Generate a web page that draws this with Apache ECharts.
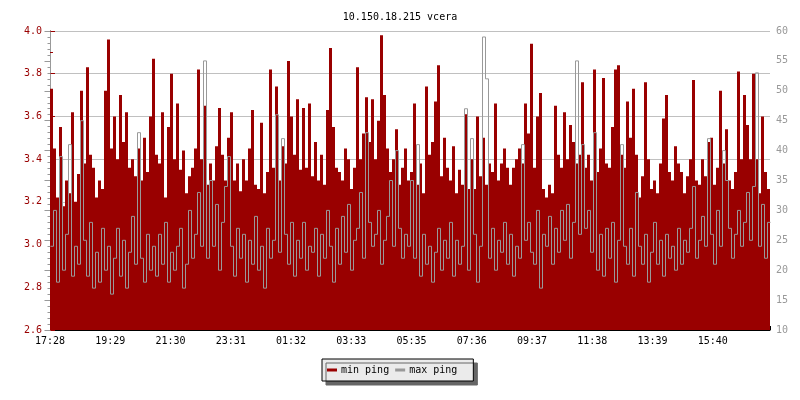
<!DOCTYPE html>
<html><head><meta charset="utf-8">
<script src="https://cdn.jsdelivr.net/npm/echarts@6/dist/echarts.min.js"></script>
<style>html,body{margin:0;padding:0;background:#fff}#c{width:800px;height:400px}</style>
</head><body><div id="c"></div>
<script>
const titleText = '10.150.18.215 vcera';
const seriesNames = ['min ping', 'max ping'];
const tickLabels = ['17:28','19:29','21:30','23:31','01:32','03:33','05:35','07:36','09:37','11:38','13:39','15:40'];
const stepMinutes = 6;
const totalMinutes = 1440;
const tickMinutes = 120.5;

const minPing = [
3.73,3.45,3.22, 3.55,3.18,3.3, 3.24,3.62,3.2, 3.33,3.72,3.38, 3.83,3.42,3.36,
3.22,3.3,3.26, 3.72,3.96,3.45, 3.6,3.4,3.7, 3.48,3.62,3.36, 3.4,3.32,3.45,
3.3,3.5,3.34, 3.6,3.87,3.42, 3.38,3.62,3.22, 3.55,3.8,3.4, 3.66,3.35,3.44,
3.24,3.32,3.36, 3.45,3.82,3.4, 3.65,3.28,3.38, 3.3,3.46,3.64, 3.42,3.3,3.5,
3.62,3.3,3.38, 3.25,3.4,3.3, 3.45,3.63,3.28, 3.26,3.57,3.24, 3.34,3.82,3.36,
3.74,3.3,3.46, 3.38,3.86,3.6, 3.42,3.68,3.35, 3.64,3.36,3.66, 3.32,3.48,3.3,
3.42,3.28,3.63, 3.92,3.55,3.36, 3.34,3.3,3.45, 3.4,3.26,3.36, 3.83,3.4,3.52,
3.69,3.48,3.68, 3.4,3.58,3.98, 3.7,3.45,3.34, 3.4,3.54,3.28, 3.36,3.45,3.3,
3.34,3.66,3.28, 3.38,3.24,3.74, 3.42,3.48,3.67, 3.84,3.32,3.5, 3.36,3.3,3.46,
3.24,3.35,3.28, 3.61,3.26,3.4, 3.26,3.6,3.32, 3.5,3.28,3.38, 3.34,3.66,3.3,
3.38,3.45,3.36, 3.28,3.36,3.4, 3.45,3.38,3.66, 3.52,3.94,3.36, 3.6,3.71,3.26,
3.22,3.28,3.24, 3.65,3.42,3.36, 3.62,3.4,3.56, 3.48,3.38,3.42, 3.76,3.36,3.42,
3.3,3.82,3.34, 3.45,3.78,3.38, 3.36,3.55,3.82, 3.84,3.42,3.36, 3.67,3.5,3.73,
3.42,3.22,3.32, 3.76,3.4,3.26, 3.3,3.24,3.38, 3.59,3.7,3.34, 3.3,3.46,3.38,
3.34,3.24,3.32, 3.4,3.77,3.3, 3.28,3.4,3.32, 3.48,3.5,3.28, 3.36,3.72,3.38,
3.54,3.3,3.26, 3.34,3.81,3.4, 3.7,3.56,3.4, 3.8,3.4,3.24, 3.6,3.34,3.26
];

const maxPing = [
24,30,18, 39,20,26, 41,19,24, 21,45,25, 19,28,17,
23,18,27, 20,24,16, 22,27,19, 25,17,23, 29,21,43,
22,18,26, 20,24,19, 26,21,28, 18,23,20, 24,27,17,
21,30,22, 26,33,24, 55,22,35, 24,31,20, 28,34,39,
24,19,27, 22,26,18, 25,21,29, 20,24,17, 27,22,25,
46,23,42, 26,21,28, 19,25,22, 28,20,24, 23,27,19,
26,22,30, 24,18,27, 21,29,23, 31,20,25, 27,33,22,
43,28,24, 26,30,21, 25,29,35, 24,40,27, 22,26,24,
35,22,41, 19,26,21, 24,18,23, 27,20,25, 22,28,19,
25,21,24, 47,20,42, 26,18,24, 59,52,22, 27,20,25,
23,28,21, 26,19,24, 22,41,25, 28,23,21, 30,17,26,
24,29,21, 27,23,30, 25,31,22, 28,55,26, 41,27,30,
23,43,20, 26,19,27, 22,28,18, 25,41,24, 21,27,19,
33,24,21, 26,18,23, 28,21,25, 19,26,22, 24,20,27,
21,25,23, 27,34,22, 25,29,24, 42,26,21, 30,24,40,
35,27,22, 26,30,24, 28,33,25, 34,53,24, 31,22,28
];

function build(arr) {
  const d = arr.map((v, i) => [i * stepMinutes, v]);
  d.push([arr.length * stepMinutes, arr[arr.length - 1]]);
  return d;
}

const RED = '#990000', GRAY = '#999999';
const FONT = 'DejaVu Sans Mono';
const chart = echarts.init(document.getElementById('c'), null, {renderer: 'canvas'});
chart.setOption({
  animation: false,
  backgroundColor: '#ffffff',
  title: {text: titleText, left: 'center', top: 7,
    textStyle: {fontFamily: FONT, fontSize: 10, fontWeight: 'normal', color: '#000'}},
  grid: {left: 50, right: 30, top: 31, bottom: 70},
  legend: {
    left: 322, top: 359, padding: [6, 16, 6, 5], itemGap: 6,
    itemWidth: 10, itemHeight: 3, icon: 'rect',
    backgroundColor: '#ebebeb', borderColor: '#000', borderWidth: 1,
    shadowColor: '#666666', shadowBlur: 0, shadowOffsetX: 4, shadowOffsetY: 4,
    textStyle: {fontFamily: FONT, fontSize: 10, color: '#000', padding: [0, 0, 0, -1]},
    data: [{name: seriesNames[0], itemStyle: {color: RED}}, {name: seriesNames[1], itemStyle: {color: GRAY}}]
  },
  xAxis: [{
    type: 'value', min: 0, max: totalMinutes, interval: tickMinutes,
    axisLine: {lineStyle: {color: '#000', width: 1}},
    axisTick: {inside: true, length: 4, lineStyle: {color: '#000'}},
    splitLine: {show: false},
    axisLabel: {fontFamily: FONT, fontSize: 10, color: '#000', margin: 6,
      formatter: v => { const k = Math.round(v / tickMinutes); return Math.abs(v - k * tickMinutes) < 0.5 && tickLabels[k] ? tickLabels[k] : ''; }}
  }, {
    type: 'value', min: -1, max: totalMinutes - 1, show: false
  }],
  yAxis: [{
    type: 'value', min: 2.6, max: 4.0, interval: 0.2, position: 'left',
    axisLine: {show: true, lineStyle: {color: RED}},
    axisTick: {show: true, inside: true, length: 5, lineStyle: {color: RED}},
    minorTick: {show: true, splitNumber: 2, length: 3, lineStyle: {color: RED}},
    splitLine: {show: true, lineStyle: {color: '#c0c0c0', width: 1}},
    axisLabel: {fontFamily: FONT, fontSize: 10, color: RED, margin: 8, formatter: v => v.toFixed(1)}
  }, {
    type: 'value', min: 10, max: 60, interval: 5, position: 'right',
    axisLine: {show: true, lineStyle: {color: GRAY}},
    axisTick: {show: true, inside: true, length: 6, lineStyle: {color: GRAY}},
    minorTick: {show: true, splitNumber: 5, length: 3, lineStyle: {color: GRAY}},
    splitLine: {show: false},
    axisLabel: {fontFamily: FONT, fontSize: 10, color: GRAY, margin: 6}
  }],
  series: [{
    name: seriesNames[0], type: 'line', xAxisIndex: 0, yAxisIndex: 0, step: 'end',
    data: build(minPing), showSymbol: false, symbol: 'none',
    lineStyle: {color: RED, width: 0}, itemStyle: {color: RED},
    areaStyle: {color: RED, opacity: 1, origin: 'start'}, z: 2
  }, {
    name: seriesNames[1], type: 'line', xAxisIndex: 1, yAxisIndex: 1, step: 'end',
    data: build(maxPing), showSymbol: false, symbol: 'none',
    lineStyle: {color: GRAY, width: 1}, itemStyle: {color: GRAY}, z: 3
  }]
});
</script></body></html>
